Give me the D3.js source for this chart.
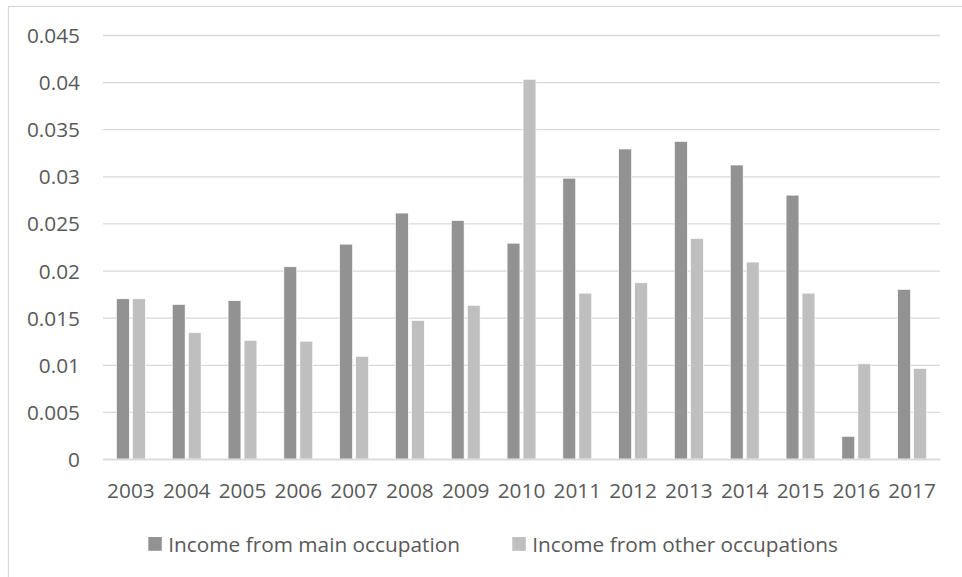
<!DOCTYPE html>
<html>
<head>
<meta charset="utf-8">
<script src="https://cdn.jsdelivr.net/npm/d3@7"></script>
<style>
  html, body { margin: 0; padding: 0; background: #fff; }
  svg { display: block; }
  svg text { font-family: "Open Sans", "Segoe UI", sans-serif; }
</style>
</head>
<body>
<svg id="chart" width="962" height="577"></svg>
<script>
// Years on the category axis
const years = ["2003","2004","2005","2006","2007","2008","2009","2010","2011","2012","2013","2014","2015","2016","2017"];
// Series values per year
const mainOccupation  = [0.0170, 0.0164, 0.0168, 0.0204, 0.0228, 0.0261, 0.0253, 0.0229, 0.0298, 0.0329, 0.0337, 0.0312, 0.0280, 0.0024, 0.0180];
const otherOccupation = [0.0170, 0.0134, 0.0126, 0.0125, 0.0109, 0.0147, 0.0163, 0.0403, 0.0176, 0.0187, 0.0234, 0.0209, 0.0176, 0.0101, 0.0096];
const seriesNames = ["Income from main occupation", "Income from other occupations"];
const seriesColors = ["#929292", "#bfbfbf"];
const yTicks = [0, 0.005, 0.01, 0.015, 0.02, 0.025, 0.03, 0.035, 0.04, 0.045];

const svg = d3.select("#chart");
const plot = { left: 103, right: 940, top: 35, bottom: 459 };
const textColor = "#595959";
const gridColor = "#d9d9d9";
const fontFamily = '"Open Sans", "Segoe UI", sans-serif';
const fontSize = "20.8px";

// Outer chart frame (only top and left edges fall inside the canvas)
svg.append("rect")
  .attr("x", 8.5).attr("y", 6.5)
  .attr("width", 1000).attr("height", 1000)
  .attr("fill", "none").attr("stroke", gridColor).attr("stroke-width", 1.3);

const x0 = d3.scaleBand().domain(years).range([plot.left, plot.right]).padding(0);
const groupWidth = 28.8;
const x1 = d3.scaleBand().domain(seriesNames).range([0, groupWidth]).paddingInner(0.2);
const y = d3.scaleLinear().domain([0, 0.045]).range([plot.bottom, plot.top]);

// Horizontal gridlines and value labels
const yAxis = d3.axisLeft(y).tickValues(yTicks).tickSize(-(plot.right - plot.left)).tickPadding(23)
  .tickFormat(d => d === 0 ? "0" : String(+d.toFixed(3)));
const gy = svg.append("g").attr("transform", `translate(${plot.left},0)`).call(yAxis)
  .attr("font-family", fontFamily).attr("font-size", fontSize);
gy.select(".domain").remove();
gy.selectAll(".tick line").attr("stroke", gridColor).attr("stroke-width", 1.3);
gy.selectAll(".tick text").attr("fill", textColor).attr("dy", "0.36em");

// Bars
const rows = years.map((yr, i) => ({ year: yr, values: [mainOccupation[i], otherOccupation[i]] }));
const groups = svg.append("g").selectAll("g").data(rows).join("g")
  .attr("transform", d => `translate(${x0(d.year) + (x0.bandwidth() - groupWidth) / 2},0)`);
groups.selectAll("rect")
  .data(d => d.values.map((v, k) => ({ key: seriesNames[k], value: v, color: seriesColors[k] })))
  .join("rect")
  .attr("x", d => x1(d.key))
  .attr("y", d => y(d.value))
  .attr("width", x1.bandwidth())
  .attr("height", d => y(0) - y(d.value))
  .attr("fill", d => d.color)
  .attr("stroke", "#ffffff").attr("stroke-width", 0.6);

// Category axis
const xAxis = d3.axisBottom(x0).tickSize(0).tickPadding(0);
const gx = svg.append("g").attr("transform", `translate(0,${plot.bottom})`).call(xAxis)
  .attr("font-family", fontFamily).attr("font-size", fontSize);
gx.select(".domain").attr("stroke", gridColor).attr("stroke-width", 1.5);
gx.selectAll(".tick text").attr("fill", textColor).attr("dy", null).attr("y", 39.2);

// Legend
const legendItems = [
  { name: seriesNames[0], color: seriesColors[0], x: 148.3 },
  { name: seriesNames[1], color: seriesColors[1], x: 512.3 }
];
const lg = svg.append("g").selectAll("g").data(legendItems).join("g")
  .attr("transform", d => `translate(${d.x},537)`);
lg.append("rect").attr("width", 13.5).attr("height", 13.8).attr("fill", d => d.color);
lg.append("text").attr("x", 20).attr("y", 14.6)
  .attr("fill", textColor).attr("font-size", fontSize).text(d => d.name);
</script>
</body>
</html>
